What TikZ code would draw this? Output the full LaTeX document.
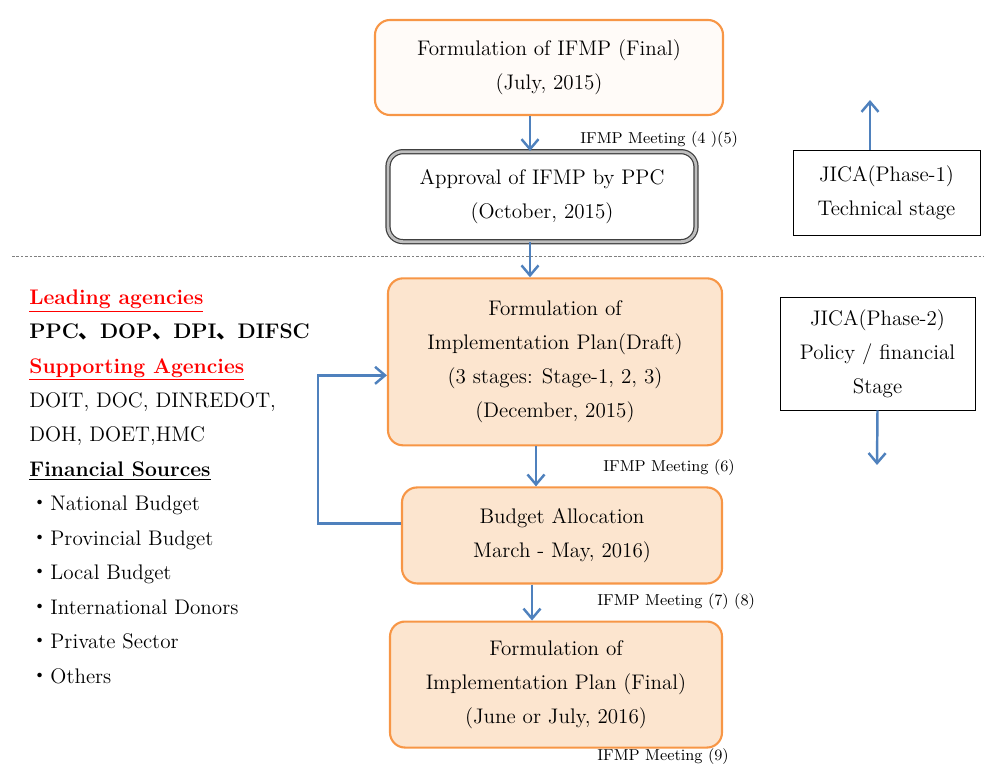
\documentclass[tikz,border=0pt]{standalone}
\usepackage{fontspec}
\usepackage{tikz}
\usepackage{xcolor}
\usetikzlibrary{arrows.meta,positioning}
\newfontfamily\cjk{Noto Sans CJK JP}
\definecolor{boxorange}{RGB}{247,150,70}
\definecolor{boxfill}{RGB}{252,229,207}
\definecolor{flowblue}{RGB}{79,129,189}

\begin{document}
\begin{tikzpicture}[node distance=0.7cm, auto,
    stepbox/.style={draw=boxorange, line width=1.2pt, fill=boxfill, rounded corners=0.3cm,
        align=center, font=\fontsize{12}{19.4}\selectfont},
    jicabox/.style={draw, thin, fill=white, align=center, font=\fontsize{12}{19.4}\selectfont},
    meeting/.style={anchor=west, inner sep=0pt, font=\fontsize{9}{10}\selectfont},
    flow/.style={-{Straight Barb[length=2mm,width=3.4mm]}, flowblue, line width=1.4pt}]
        \useasboundingbox (0,0) rectangle (19.68,-15.28);

        % Technical stage
        \node [stepbox, fill=boxfill!15, minimum width=6.96cm, minimum height=1.9cm] (ifmpfinal) at (10.98,-1.35)
            {Formulation of IFMP (Final)\\(July, 2015)};
        \node [stepbox, draw=black!75, line width=0.7pt, double=black!25, double distance=1.6pt, fill=white,
            below=of ifmpfinal, xshift=-0.14cm, minimum width=6.16cm, minimum height=1.8cm] (approval)
            {Approval of IFMP by PPC\\(October, 2015)};

        % Phase border
        \draw [gray, dash pattern=on 1.5pt off 1pt] (0.24,-5.12) -- (19.68,-5.12);

        % Policy / financial stage
        \node [stepbox, below=of approval, xshift=0.26cm, minimum width=6.68cm, minimum height=3.34cm] (implDraft)
            {Formulation of\\Implementation Plan(Draft)\\(3 stages: Stage-1, 2, 3)\\(December, 2015)};
        \node [stepbox, below=0.8cm of implDraft, xshift=0.14cm, minimum width=6.4cm, minimum height=1.92cm] (budget)
            {Budget Allocation\\March - May, 2016)};
        \node [stepbox, below=0.72cm of budget, xshift=-0.12cm, minimum width=6.64cm, minimum height=2.52cm] (implFinal)
            {Formulation of\\Implementation Plan (Final)\\(June or July, 2016)};

        % Meetings
        \node [meeting] (meet45) at ([xshift=0.62cm, yshift=-0.46cm]ifmpfinal.south) {IFMP Meeting (4 )(5)};
        \node [meeting] (meet6) at ([xshift=0.96cm, yshift=-0.42cm]implDraft.south) {IFMP Meeting (6)};
        \node [meeting] (meet78) at ([xshift=0.7cm, yshift=-0.34cm]budget.south) {IFMP Meeting (7) (8)};
        \node [meeting] (meet9) at ([xshift=0.82cm, yshift=-0.16cm]implFinal.south) {IFMP Meeting (9)};

        % JICA phases
        \node [jicabox, minimum width=3.74cm, minimum height=1.7cm] (phase1) at (17.73,-3.85)
            {JICA(Phase-1)\\Technical stage};
        \node [jicabox, minimum width=3.9cm, minimum height=2.26cm] (phase2) at (17.55,-7.07)
            {JICA(Phase-2)\\Policy / financial\\Stage};
        \coordinate (phase1end) at (17.4,-2.0);
        \coordinate (phase2end) at (17.54,-9.3);

        % Agencies and sources
        \node [anchor=west, align=left, inner sep=0pt, font=\fontsize{12}{19.6}\selectfont] (agencies) at (0.58,-9.73)
            {\textcolor{red}{\textbf{\underline{Leading agencies}}}\\
             \textbf{PPC{\cjk 、}DOP{\cjk 、}DPI{\cjk 、}DIFSC}\\
             \textcolor{red}{\textbf{\underline{Supporting Agencies}}}\\
             DOIT, DOC, DINREDOT,\\
             DOH, DOET,HMC\\
             \textbf{\underline{Financial Sources}}\\
             {\cjk ・}National Budget\\
             {\cjk ・}Provincial Budget\\
             {\cjk ・}Local Budget\\
             {\cjk ・}International Donors\\
             {\cjk ・}Private Sector\\
             {\cjk ・}Others};

        % Arrows
        \draw [flow] ([xshift=-0.38cm]ifmpfinal.south) -- ([xshift=-0.38cm]ifmpfinal.south |- approval.north);
        \draw [flow] ([xshift=-0.24cm]approval.south) -- ([xshift=-0.24cm]approval.south |- implDraft.north);
        \draw [flow] ([xshift=-0.38cm]implDraft.south) -- ([xshift=-0.38cm]implDraft.south |- budget.north);
        \draw [flow] ([xshift=-0.6cm]budget.south) -- ([xshift=-0.6cm]budget.south |- implFinal.north);
        \draw [flow] ([yshift=0.24cm]budget.west) -- ++(-1.66cm,0) |- ([yshift=-0.27cm]implDraft.west);
        \draw [flow] ([xshift=-0.33cm]phase1.north) -- (phase1end);
        \draw [flow] (phase2.south) -- (phase2end);
    \end{tikzpicture}
\end{document}
